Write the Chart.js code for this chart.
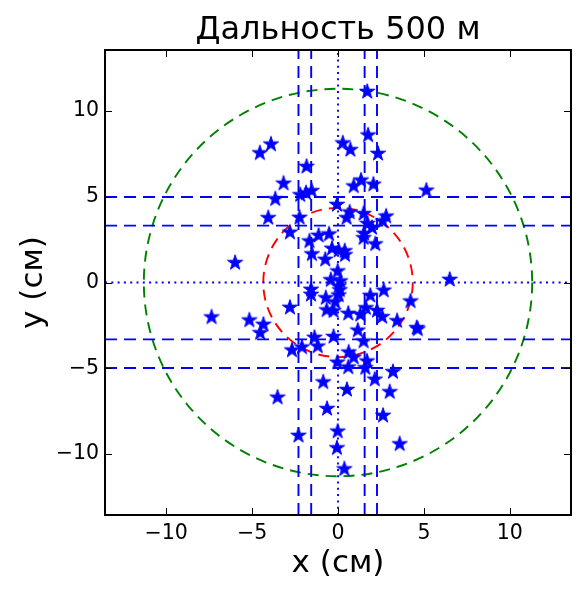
<!DOCTYPE html>
<html>
<head>
<meta charset="utf-8">
<script src="https://cdn.jsdelivr.net/npm/chart.js@4.4.1/dist/chart.umd.min.js"></script>
<style>
  html, body { margin: 0; padding: 0; background: #fff; }
  #wrap { width: 585px; height: 599px; }
</style>
</head>
<body>
<div id="wrap"><canvas id="chart" width="585" height="599"></canvas></div>
<script>
// --- данные (см) ---
const shotX = [
  1.70, -4.55, -3.90, 0.28, 0.72, 1.75, 2.33, -1.83, -3.17, -3.65,
  -2.20, -1.86, -1.53, 0.91, 1.34, 2.06, 5.14, -0.06, -4.06, -2.24,
  0.50, 0.68, 1.49, 1.72, 1.98, 2.60, 2.80, -2.80, 1.52, 1.49,
  2.17, -1.66, -1.13, -0.52, -1.52, -0.74, -0.35, 0.04, 0.39, 0.41,
  -5.99, -0.02, -0.42, 0.13, 0.04, 6.50, -1.57, -1.57, -0.71, -0.16,
  1.88, 2.66, 4.22, -2.80, -7.36, -5.16, -4.34, -4.53, -0.66, -0.26,
  0.60, 1.30, 1.62, 2.27, 2.57, 3.44, 4.58, 4.64, 1.15, 1.49,
  -0.26, -1.37, -1.18, -2.10, -2.68, 0.62, 0.91, -0.04, 0.60, 1.69,
  1.59, 3.20, 2.14, 3.01, -0.86, 0.52, -3.52, -0.64, 2.62, -2.30,
  -0.02, -0.06, 3.59, 0.37, 0.10, 0.04
];
const shotY = [
  11.17, 7.59, 8.10, 8.17, 7.78, 8.63, 7.56, 6.80, 5.82, 4.91,
  5.15, 5.26, 5.39, 5.66, 6.00, 5.76, 5.41, 4.58, 3.81, 3.83,
  3.81, 4.14, 4.05, 3.47, 3.23, 3.62, 3.90, 2.96, 2.90, 2.64,
  2.28, 2.45, 2.78, 2.86, 1.70, 1.38, 2.02, 1.91, 1.88, 1.65,
  1.19, 0.70, 0.19, 0.12, -0.18, 0.21, -0.37, -0.66, -0.86, -1.10,
  -0.72, -0.42, -1.05, -1.42, -1.98, -2.16, -2.41, -2.90, -1.57, -1.62,
  -1.77, -1.83, -1.44, -1.60, -1.96, -2.20, -2.60, -2.68, -2.75, -3.39,
  -3.12, -3.17, -3.68, -3.73, -3.91, -4.03, -4.33, -4.62, -4.90, -4.55,
  -4.94, -5.17, -5.61, -6.34, -5.77, -6.21, -6.66, -7.32, -7.72, -8.89,
  -8.64, -9.61, -9.38, -10.84, -0.40, -0.70
];

const vLines = [-2.30, -1.56, 1.55, 2.27];   // штриховые вертикальные
const hLines = [4.99, 3.32, -3.32, -4.99];   // штриховые горизонтальные
const circleR = [11.3, 4.35];
const circleColor = ["#008000", "#ff0000"];
const axisTicks = [-10, -5, 0, 5, 10];
const lim = 13.56;

// --- звёздочка для точек ---
function makeStar(size, color) {
  const c = document.createElement("canvas");
  c.width = size;
  c.height = size;
  const g = c.getContext("2d");
  const cx = size / 2, cy = size / 2 + 0.7;
  const ro = size / 2 - 1, ri = ro * 0.382;
  g.beginPath();
  for (let i = 0; i < 10; i++) {
    const r = i % 2 ? ri : ro;
    const a = -Math.PI / 2 + i * Math.PI / 5;
    g.lineTo(cx + r * Math.cos(a), cy + r * Math.sin(a));
  }
  g.closePath();
  g.fillStyle = color;
  g.fill();
  g.strokeStyle = color;
  g.lineWidth = 1;
  g.lineJoin = "round";
  g.stroke();
  return c;
}
const starImg = makeStar(18, "#0000ff");

const points = shotX.map((x, i) => ({ x, y: shotY[i] }));

function lineSet(data, dash, width) {
  return {
    data,
    showLine: true,
    borderColor: "#0000ff",
    borderWidth: width,
    borderDash: dash,
    pointRadius: 0,
    fill: false
  };
}

const datasets = [
  { data: points, pointStyle: starImg, pointRadius: 9, showLine: false }
];
vLines.forEach(v => datasets.push(lineSet([{ x: v, y: -lim }, { x: v, y: lim }], [12, 7], 1.9)));
hLines.forEach(v => datasets.push(lineSet([{ x: -lim, y: v }, { x: lim, y: v }], [12, 7], 1.9)));
datasets.push(lineSet([{ x: 0, y: -lim }, { x: 0, y: lim }], [2, 4.3], 1.9));
datasets.push(lineSet([{ x: -lim, y: 0 }, { x: lim, y: 0 }], [2, 4.3], 1.9));

// --- окружности, рамка и внутренние засечки ---
const framePlugin = {
  id: "frame",
  beforeDatasetsDraw(chart) {
    const { ctx, chartArea, scales } = chart;
    const sx = scales.x, sy = scales.y;
    ctx.save();
    ctx.beginPath();
    ctx.rect(chartArea.left, chartArea.top, chartArea.right - chartArea.left, chartArea.bottom - chartArea.top);
    ctx.clip();
    circleR.forEach((r, i) => {
      const cx = sx.getPixelForValue(0), cy = sy.getPixelForValue(0);
      const rx = sx.getPixelForValue(r) - cx;
      const ry = cy - sy.getPixelForValue(r);
      ctx.beginPath();
      ctx.ellipse(cx, cy, rx, ry, 0, 0, Math.PI * 2);
      ctx.strokeStyle = circleColor[i];
      ctx.lineWidth = 1.9;
      ctx.setLineDash([11, 7]);
      ctx.stroke();
    });
    ctx.restore();
  },
  afterDatasetsDraw(chart) {
    const { ctx, chartArea: a, scales } = chart;
    const tl = 7;
    ctx.save();
    ctx.strokeStyle = "#000";
    ctx.lineWidth = 1;
    ctx.setLineDash([]);
    ctx.beginPath();
    axisTicks.forEach(v => {
      const px = Math.round(scales.x.getPixelForValue(v)) + 0.5;
      ctx.moveTo(px, a.bottom); ctx.lineTo(px, a.bottom - tl);
      ctx.moveTo(px, a.top); ctx.lineTo(px, a.top + tl);
      const py = Math.round(scales.y.getPixelForValue(v)) + 0.5;
      ctx.moveTo(a.left, py); ctx.lineTo(a.left + tl, py);
      ctx.moveTo(a.right, py); ctx.lineTo(a.right - tl, py);
    });
    ctx.stroke();
    ctx.lineWidth = 2;
    ctx.strokeRect(a.left, a.top, a.right - a.left, a.bottom - a.top);
    ctx.restore();
  }
};

const tickFmt = v => (v < 0 ? "\u2212" + Math.abs(v) : String(v));
const setTicks = scale => { scale.ticks = axisTicks.map(v => ({ value: v })); };

Chart.defaults.font.family = "'DejaVu Sans', sans-serif";
Chart.defaults.color = "#000";

new Chart(document.getElementById("chart"), {
  type: "scatter",
  data: { datasets },
  plugins: [framePlugin],
  options: {
    responsive: false,
    animation: false,
    events: [],
    layout: { padding: { left: 0, right: 14, top: 0, bottom: 0 } },
    plugins: {
      legend: { display: false },
      tooltip: { enabled: false },
      title: {
        display: true,
        fullSize: false,
        text: "Дальность 500 м",
        color: "#000",
        font: { size: 32, weight: "normal" },
        padding: { top: 11, bottom: 0.6 }
      }
    },
    scales: {
      x: {
        type: "linear",
        min: -lim,
        max: lim,
        afterBuildTicks: setTicks,
        afterFit: s => { s.height = 84; },
        grid: { display: false, drawTicks: false },
        border: { display: false },
        ticks: { callback: tickFmt, font: { size: 20.5 }, padding: 6, maxRotation: 0 },
        title: { display: true, text: "x (см)", font: { size: 31 }, padding: { top: 0, bottom: 16 } }
      },
      y: {
        type: "linear",
        min: -lim,
        max: lim,
        afterBuildTicks: setTicks,
        afterFit: s => { s.width = 105; },
        grid: { display: false, drawTicks: false },
        border: { display: false },
        ticks: { callback: tickFmt, font: { size: 20.5 }, padding: 6 },
        title: { display: true, text: "y (см)", font: { size: 31 }, padding: { top: 15, bottom: 0 } }
      }
    }
  }
});
</script>
</body>
</html>
